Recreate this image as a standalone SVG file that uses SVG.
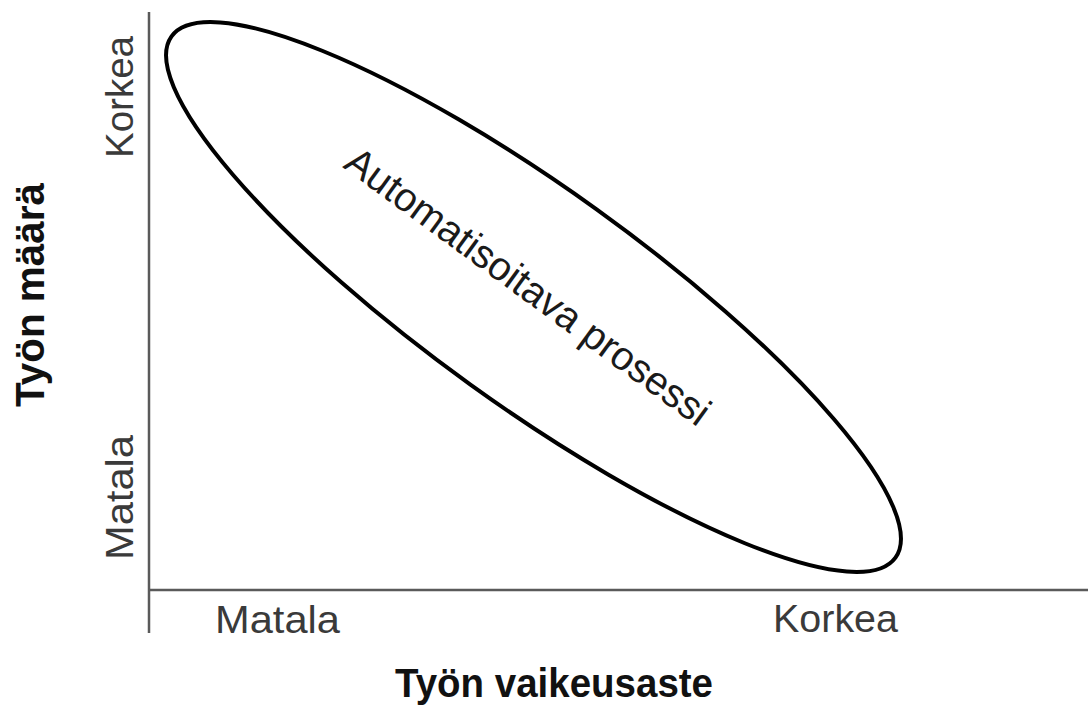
<svg xmlns="http://www.w3.org/2000/svg" width="1088" height="709" viewBox="0 0 1088 709">
<style>
.axis{stroke:#5a5a5a;stroke-width:2.5;fill:none}
.tick{font-family:"Liberation Sans",Arial,sans-serif;font-size:38px;fill:#3a3a3a}
.title{font-family:"Liberation Sans",Arial,sans-serif;font-weight:bold;font-size:40px;fill:#111}
.main{font-family:"Liberation Sans",Arial,sans-serif;font-size:40px;fill:#1a1a1a}
</style>
<rect width="1088" height="709" fill="#fff"/>
<g id="axes">
<line class="axis" x1="149" y1="12" x2="149" y2="633"/>
<line class="axis" x1="149" y1="590" x2="1088" y2="590"/>
</g>
<g id="labels">
<text class="tick" x="215" y="633" textLength="125" lengthAdjust="spacingAndGlyphs">Matala</text>
<text class="tick" x="773" y="632" textLength="125" lengthAdjust="spacingAndGlyphs">Korkea</text>
<text class="tick" transform="translate(133,158) rotate(-90)" textLength="122" lengthAdjust="spacingAndGlyphs">Korkea</text>
<text class="tick" transform="translate(133,560) rotate(-90)" textLength="125" lengthAdjust="spacingAndGlyphs">Matala</text>
<text class="title" x="395" y="697" textLength="318" lengthAdjust="spacingAndGlyphs">Työn vaikeusaste</text>
<text class="title" transform="translate(44,407) rotate(-90)" font-size="37" textLength="224" lengthAdjust="spacingAndGlyphs">Työn määrä</text>
</g>
<g id="ellipse-node">
<ellipse cx="533.5" cy="297" rx="446" ry="108" transform="rotate(35.75 533.5 297)" fill="none" stroke="#000" stroke-width="4"/>
<text class="main" transform="translate(342,167) rotate(36.2)" textLength="441" lengthAdjust="spacingAndGlyphs">Automatisoitava prosessi</text>
</g>
</svg>
